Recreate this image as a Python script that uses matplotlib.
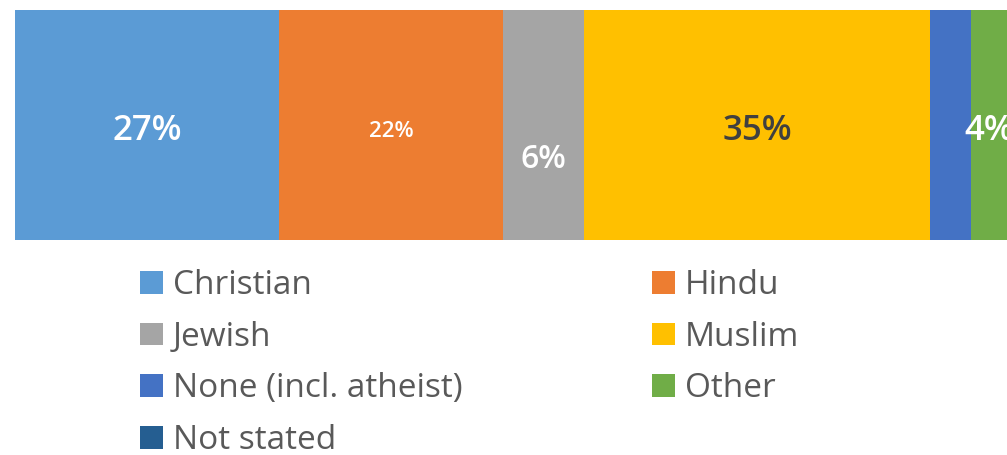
import matplotlib.pyplot as plt
from matplotlib.patches import Patch

# data
religions = ['Christian', 'Hindu', 'Jewish', 'Muslim', 'None (incl. atheist)', 'Other', 'Not stated']
shares = [27.0, 22.9, 8.3, 35.4, 4.2, 3.6, 2.0]   # segment widths
labels = ['27%', '22%', '6%', '35%', '', '4%', '']
colors = ['#5B9BD5', '#ED7D31', '#A5A5A5', '#FFC000', '#4472C4', '#70AD47', '#255E91']

# label styling per segment
label_colors = ['white', 'white', 'white', '#404040', 'white', 'white', 'white']
label_sizes = [25, 16, 23, 25, 23, 25, 23]
label_dy = [-0.025, -0.03, -0.15, -0.025, 0.0, -0.025, 0.0]

plt.rcParams['font.family'] = ['Open Sans', 'DejaVu Sans']

fig = plt.figure(figsize=(10.07, 4.55), dpi=100)
ax = fig.add_axes([15 / 1007, 215 / 455, 992 / 1007, 230 / 455])

left = 0
for name, val, col, lab, lc, ls, dy in zip(religions, shares, colors, labels,
                                            label_colors, label_sizes, label_dy):
    ax.barh(0, val, left=left, height=1.0, color=col, edgecolor='none')
    if lab:
        ax.text(left + val / 2, dy, lab, ha='center', va='center',
                color=lc, fontsize=ls, fontweight='semibold')
    left += val

ax.set_xlim(0, 992 / 9.78)
ax.set_ylim(-0.5, 0.5)
ax.axis('off')

# legend, filled column by column
order = [0, 2, 4, 6, 1, 3, 5]
handles = [Patch(facecolor=colors[i], edgecolor='none', label=religions[i]) for i in order]
fig.legend(handles=handles, ncol=2, loc='upper left', bbox_to_anchor=(110 / 1007, 1 - 239 / 455),
           frameon=False, fontsize=24, labelcolor='#595959',
           handlelength=0.68, handleheight=0.68, handletextpad=0.3,
           labelspacing=0.56, columnspacing=5.7)

plt.savefig('out.png', dpi=100)
